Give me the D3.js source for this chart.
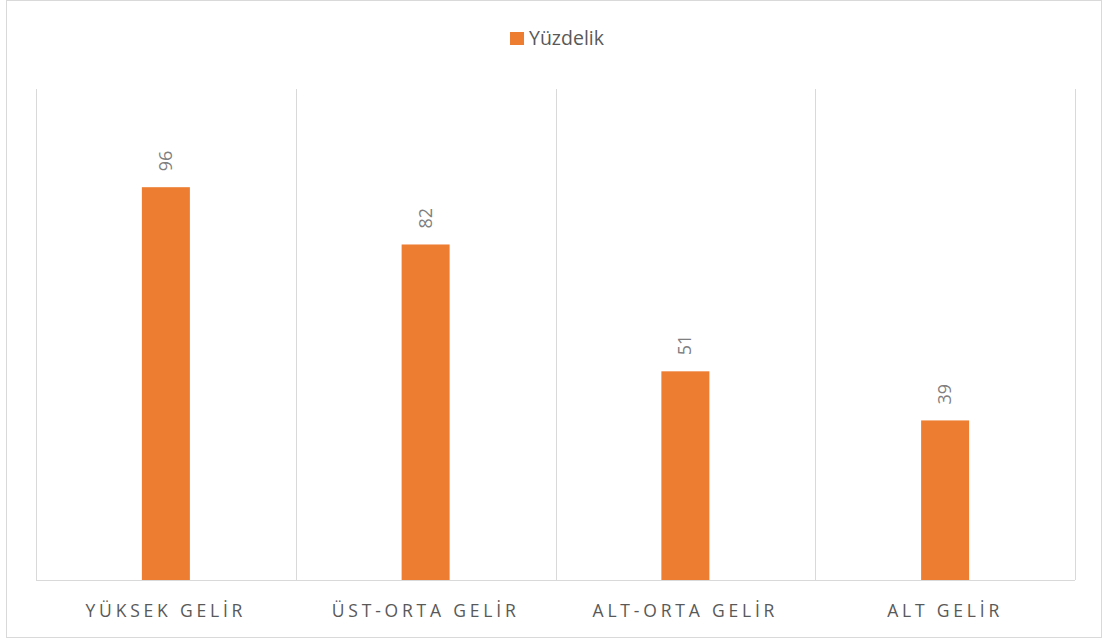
<!DOCTYPE html>
<html>
<head>
<meta charset="utf-8">
<script src="https://cdn.jsdelivr.net/npm/d3@7"></script>
<style>
  body { margin: 0; background: #fff; }
  svg { display: block; font-family: "Open Sans", "DejaVu Sans", sans-serif; }
</style>
</head>
<body>
<svg width="1107" height="641"></svg>
<script>
var categories = ["YÜKSEK GELİR", "ÜST-ORTA GELİR", "ALT-ORTA GELİR", "ALT GELİR"];
var values = [96, 82, 51, 39];
var seriesName = "Yüzdelik";

var svg = d3.select("svg"),
    margin = {top: 89, right: 32, bottom: 61, left: 36},
    width = 1107 - margin.left - margin.right,
    height = 641 - margin.top - margin.bottom;

// chart border
svg.append("rect")
    .attr("x", 6.5).attr("y", 0.5)
    .attr("width", 1095).attr("height", 637)
    .attr("fill", "#fff")
    .attr("stroke", "#d9d9d9");

var g = svg.append("g").attr("transform", "translate(" + margin.left + "," + margin.top + ")");

var x = d3.scaleBand().domain(categories).range([0, width]).paddingInner(0).paddingOuter(0);
var y = d3.scaleLinear().domain([0, 120]).range([height, 0]);

// vertical gridlines between categories
var edges = categories.map(function(d) { return x(d); }).concat([width]);
g.append("g").selectAll("line")
    .data(edges)
  .enter().append("line")
    .attr("x1", function(d) { return Math.round(d) + 0.5; })
    .attr("x2", function(d) { return Math.round(d) + 0.5; })
    .attr("y1", 0).attr("y2", height)
    .attr("stroke", "#d9d9d9");

// axis line
g.append("line")
    .attr("x1", 0).attr("x2", width)
    .attr("y1", height + 0.5).attr("y2", height + 0.5)
    .attr("stroke", "#d9d9d9");

var barW = 48;
g.append("g").selectAll("rect")
    .data(values)
  .enter().append("rect")
    .attr("x", function(d, i) { return x(categories[i]) + x.bandwidth() / 2 - barW / 2; })
    .attr("y", function(d) { return y(d); })
    .attr("width", barW)
    .attr("height", function(d) { return height - y(d); })
    .attr("fill", "#ed7d31");

// value labels, rotated
g.append("g").selectAll("text")
    .data(values)
  .enter().append("text")
    .attr("transform", function(d, i) {
      var cx = x(categories[i]) + x.bandwidth() / 2;
      return "translate(" + (cx + 6) + "," + (y(d) - 16) + ")rotate(-90)";
    })
    .attr("text-anchor", "start")
    .attr("font-size", "18px")
    .attr("fill", "#7f7f7f")
    .text(function(d) { return d; });

// category labels
g.append("g").selectAll("text")
    .data(categories)
  .enter().append("text")
    .attr("x", function(d) { return x(d) + x.bandwidth() / 2; })
    .attr("y", height + 37)
    .attr("text-anchor", "middle")
    .attr("font-size", "17.5px")
    .attr("letter-spacing", "3.8px")
    .attr("fill", "#595959")
    .text(function(d) { return d; });

// legend
var legend = svg.append("g").attr("transform", "translate(510,32)");
legend.append("rect")
    .attr("width", 14).attr("height", 13)
    .attr("fill", "#ed7d31");
legend.append("text")
    .attr("x", 19).attr("y", 12.5)
    .attr("font-size", "19.5px")
    .attr("fill", "#595959")
    .text(seriesName);
</script>
</body>
</html>
